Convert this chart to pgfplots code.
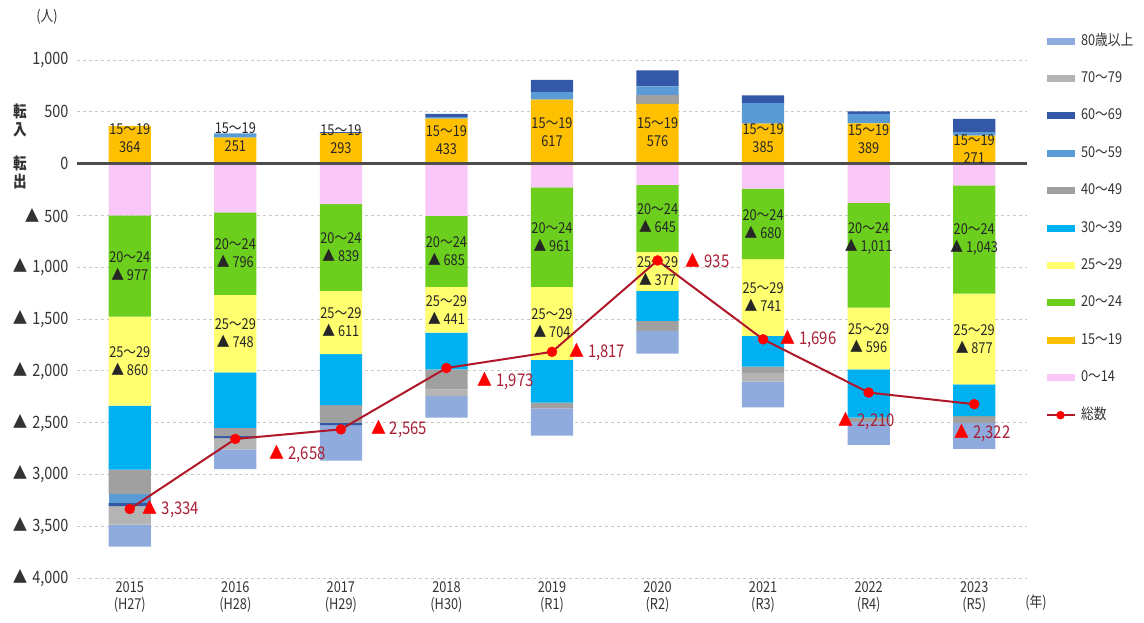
\documentclass[border=0pt]{standalone}
\usepackage{fontspec}
\setmainfont{Noto Sans CJK JP}[FakeStretch=0.85]
\usepackage{pgfplots}
\pgfplotsset{compat=1.18}
\definecolor{c80}{HTML}{8FAADC}
\definecolor{c70}{HTML}{B4B4B4}
\definecolor{c60}{HTML}{3358A8}
\definecolor{c50}{HTML}{5B9BD5}
\definecolor{c40}{HTML}{A0A0A0}
\definecolor{c30}{HTML}{00B0F0}
\definecolor{c25}{HTML}{FFFF70}
\definecolor{c20}{HTML}{6CCF1E}
\definecolor{c15}{HTML}{FFC000}
\definecolor{c0}{HTML}{F9C8F9}
\definecolor{linec}{HTML}{B0182A}
\definecolor{markc}{HTML}{FF0000}
\definecolor{numc}{HTML}{A81E34}
\definecolor{gridc}{HTML}{C8C8C8}
\definecolor{zeroc}{HTML}{4D4D4D}
\definecolor{textc}{HTML}{333333}
\definecolor{labc}{HTML}{262626}
\tikzset{
  lab/.style={align=center, font=\fontsize{15}{18}\selectfont, text=labc, inner sep=0pt},
  tot/.style={anchor=west, inner sep=1pt, font=\fontsize{17.5}{17.5}\selectfont, text=numc},
}
\begin{document}
\begin{tikzpicture}
\useasboundingbox (0pt,0pt) rectangle (1144pt,622pt);
\pgfplotsset{
  base/.style={
    scale only axis, width=950pt, height=518pt,
    at={(77pt,44pt)}, anchor=south west,
    xmin=-0.5, xmax=8.5, ymin=-4000, ymax=1000,
  },
}
% ---------- axis 1: positive stack, grid, ticks ----------
\begin{axis}[base, ybar stacked, bar width=0.4,
  axis line style={draw=none}, major tick length=0pt,
  ytick={-4000,-3500,-3000,-2500,-2000,-1500,-1000,-500,0,500,1000},
  yticklabels={{▲\hspace{5pt}4,000},{▲\hspace{5pt}3,500},{▲\hspace{5pt}3,000},{▲\hspace{5pt}2,500},{▲\hspace{5pt}2,000},{▲\hspace{5pt}1,500},{▲\hspace{5pt}1,000},{▲\hspace{5pt}500},{0},{500},{1,000}},
  ymajorgrids, grid style={dash pattern=on 3pt off 3pt, color=gridc, line width=0.9pt},
  xtick={0,1,2,3,4,5,6,7,8},
  xticklabels={{2015\\(H27)},{2016\\(H28)},{2017\\(H29)},{2018\\(H30)},{2019\\(R1)},{2020\\(R2)},{2021\\(R3)},{2022\\(R4)},{2023\\(R5)}},
  xticklabel style={align=center, font=\fontsize{15}{17}\selectfont, text=textc},
  yticklabel style={anchor=east, xshift=-5pt, font=\fontsize{17}{17}\selectfont, text=textc},
  /pgf/number format/assume math mode=true,
]
\addplot[fill=c15, draw=none] coordinates {(0,364) (1,251) (2,293) (3,433) (4,617) (5,576) (6,385) (7,389) (8,271)};
\addplot[fill=c40, draw=none] coordinates {(0,0) (1,0) (2,0) (3,0) (4,0) (5,88) (6,0) (7,0) (8,0)};
\addplot[fill=c50, draw=none] coordinates {(0,0) (1,40) (2,0) (3,15) (4,73) (5,81) (6,198) (7,90) (8,32)};
\addplot[fill=c60, draw=none] coordinates {(0,0) (1,0) (2,10) (3,32) (4,119) (5,154) (6,75) (7,26) (8,129)};
\end{axis}
% ---------- axis 2: negative stack ----------
\begin{axis}[base, hide axis, ybar stacked, bar width=0.4]
\addplot[fill=c0, draw=none] coordinates {(0,-500) (1,-471) (2,-390) (3,-505) (4,-229) (5,-206) (6,-242) (7,-379) (8,-211)};
\addplot[fill=c20, draw=none] coordinates {(0,-977) (1,-796) (2,-839) (3,-685) (4,-961) (5,-645) (6,-680) (7,-1011) (8,-1043)};
\addplot[fill=c25, draw=none] coordinates {(0,-860) (1,-748) (2,-611) (3,-441) (4,-704) (5,-377) (6,-741) (7,-596) (8,-877)};
\addplot[fill=c30, draw=none] coordinates {(0,-616) (1,-535) (2,-491) (3,-355) (4,-414) (5,-290) (6,-297) (7,-467) (8,-306)};
\addplot[fill=c40, draw=none] coordinates {(0,-236) (1,-81) (2,-171) (3,-193) (4,-55) (5,-97) (6,-68) (7,-40) (8,-65)};
\addplot[fill=c50, draw=none] coordinates {(0,-87) (1,0) (2,0) (3,0) (4,0) (5,0) (6,0) (7,0) (8,0)};
\addplot[fill=c60, draw=none] coordinates {(0,-31) (1,-19) (2,-22) (3,0) (4,0) (5,0) (6,0) (7,0) (8,0)};
\addplot[fill=c70, draw=none] coordinates {(0,-177) (1,-109) (2,0) (3,-65) (4,0) (5,0) (6,-77) (7,0) (8,0)};
\addplot[fill=c80, draw=none] coordinates {(0,-214) (1,-190) (2,-344) (3,-209) (4,-263) (5,-219) (6,-249) (7,-222) (8,-252)};
\end{axis}
% ---------- axis 3: total line, labels, legend ----------
\begin{axis}[base, hide axis, clip=false,
  legend style={at={(1.0135,1.0560)}, anchor=north west, draw=none, fill=none,
    font=\fontsize{15}{18}\selectfont, text=textc, row sep=21.4pt, column sep=2pt,
    nodes={inner sep=1pt, text height=11pt, text depth=3pt}},
  legend cell align=left,
]
\draw[line width=2.5pt, zeroc] (axis cs:-0.5,0) -- (axis cs:8.5,0);
\addplot[forget plot, color=linec, line width=2pt, mark=*, mark size=5pt,
  mark options={fill=markc, draw=markc, line width=0.4pt}]
  coordinates {(0,-3334) (1,-2658) (2,-2565) (3,-1973) (4,-1817) (5,-935) (6,-1696) (7,-2210) (8,-2322)};
% 15-19 labels
\node[lab] at (axis cs:0,250) {15～19\\364};
\node[lab] at (axis cs:1,260) {15～19\\251};
\node[lab] at (axis cs:2,235) {15～19\\293};
\node[lab] at (axis cs:3,227) {15～19\\433};
\node[lab] at (axis cs:4,300) {15～19\\617};
\node[lab] at (axis cs:5,300) {15～19\\576};
\node[lab] at (axis cs:6,242) {15～19\\385};
\node[lab] at (axis cs:7,232) {15～19\\389};
\node[lab] at (axis cs:8,140) {15～19\\271};
% 20-24 labels
\node[lab] at (axis cs:0,-989) {20～24\\▲ 977};
\node[lab] at (axis cs:1,-869) {20～24\\▲ 796};
\node[lab] at (axis cs:2,-809) {20～24\\▲ 839};
\node[lab] at (axis cs:3,-847) {20～24\\▲ 685};
\node[lab] at (axis cs:4,-709) {20～24\\▲ 961};
\node[lab] at (axis cs:5,-528) {20～24\\▲ 645};
\node[lab] at (axis cs:6,-582) {20～24\\▲ 680};
\node[lab] at (axis cs:7,-725) {20～24\\▲ 1,011};
\node[lab] at (axis cs:8,-732) {20～24\\▲ 1,043};
% 25-29 labels
\node[lab] at (axis cs:0,-1907) {25～29\\▲ 860};
\node[lab] at (axis cs:1,-1641) {25～29\\▲ 748};
\node[lab] at (axis cs:2,-1535) {25～29\\▲ 611};
\node[lab] at (axis cs:3,-1410) {25～29\\▲ 441};
\node[lab] at (axis cs:4,-1542) {25～29\\▲ 704};
\node[lab] at (axis cs:5,-1040) {25～29\\▲ 377};
\node[lab] at (axis cs:6,-1292) {25～29\\▲ 741};
\node[lab] at (axis cs:7,-1688) {25～29\\▲ 596};
\node[lab] at (axis cs:8,-1692) {25～29\\▲ 877};
% total labels
\node[tot, xshift=12pt] at (axis cs:0,-3334) {\textcolor{markc}{▲}\hspace{4pt}3,334};
\node[tot, xshift=33pt, yshift=-15pt] at (axis cs:1,-2658) {\textcolor{markc}{▲}\hspace{4pt}2,658};
\node[tot, xshift=29pt] at (axis cs:2,-2565) {\textcolor{markc}{▲}\hspace{4pt}2,565};
\node[tot, xshift=30pt, yshift=-13pt] at (axis cs:3,-1973) {\textcolor{markc}{▲}\hspace{4pt}1,973};
\node[tot, xshift=16pt] at (axis cs:4,-1817) {\textcolor{markc}{▲}\hspace{4pt}1,817};
\node[tot, xshift=27pt] at (axis cs:5,-935) {\textcolor{markc}{▲}\hspace{4pt}935};
\node[tot, xshift=16pt] at (axis cs:6,-1696) {\textcolor{markc}{▲}\hspace{4pt}1,696};
\node[tot, xshift=-31pt, yshift=-28pt] at (axis cs:7,-2210) {\textcolor{markc}{▲}\hspace{4pt}2,210};
\node[tot, xshift=-21pt, yshift=-29pt] at (axis cs:8,-2322) {\textcolor{markc}{▲}\hspace{4pt}2,322};
% legend
\addlegendimage{legend image code/.code={\draw[line width=7pt, c80] (0pt,0pt) -- (28pt,0pt);}}
\addlegendentry{80歳以上}
\addlegendimage{legend image code/.code={\draw[line width=7pt, c70] (0pt,0pt) -- (28pt,0pt);}}
\addlegendentry{70～79}
\addlegendimage{legend image code/.code={\draw[line width=7pt, c60] (0pt,0pt) -- (28pt,0pt);}}
\addlegendentry{60～69}
\addlegendimage{legend image code/.code={\draw[line width=7pt, c50] (0pt,0pt) -- (28pt,0pt);}}
\addlegendentry{50～59}
\addlegendimage{legend image code/.code={\draw[line width=7pt, c40] (0pt,0pt) -- (28pt,0pt);}}
\addlegendentry{40～49}
\addlegendimage{legend image code/.code={\draw[line width=7pt, c30] (0pt,0pt) -- (28pt,0pt);}}
\addlegendentry{30～39}
\addlegendimage{legend image code/.code={\draw[line width=7pt, c25] (0pt,0pt) -- (28pt,0pt);}}
\addlegendentry{25～29}
\addlegendimage{legend image code/.code={\draw[line width=7pt, c20] (0pt,0pt) -- (28pt,0pt);}}
\addlegendentry{20～24}
\addlegendimage{legend image code/.code={\draw[line width=7pt, c15] (0pt,0pt) -- (28pt,0pt);}}
\addlegendentry{15～19}
\addlegendimage{legend image code/.code={\draw[line width=7pt, c0] (0pt,0pt) -- (28pt,0pt);}}
\addlegendentry{0～14}
\addlegendimage{legend image code/.code={\draw[line width=2pt, linec] (0pt,0pt) -- (28pt,0pt); \fill[markc] (14pt,0pt) circle (4pt);}}
\addlegendentry{総数}
\end{axis}
% ---------- free texts ----------
\node[font=\fontsize{15}{15}\selectfont, text=textc] at (47pt,605pt) {(人)};
\node[font=\bfseries\fontsize{16}{18}\selectfont, text=textc, align=center] at (20pt,502pt) {転\\入};
\node[font=\bfseries\fontsize{16}{18}\selectfont, text=textc, align=center] at (20pt,450pt) {転\\出};
\node[font=\fontsize{15}{15}\selectfont, text=textc] at (1036pt,19pt) {(年)};
\end{tikzpicture}
\end{document}
